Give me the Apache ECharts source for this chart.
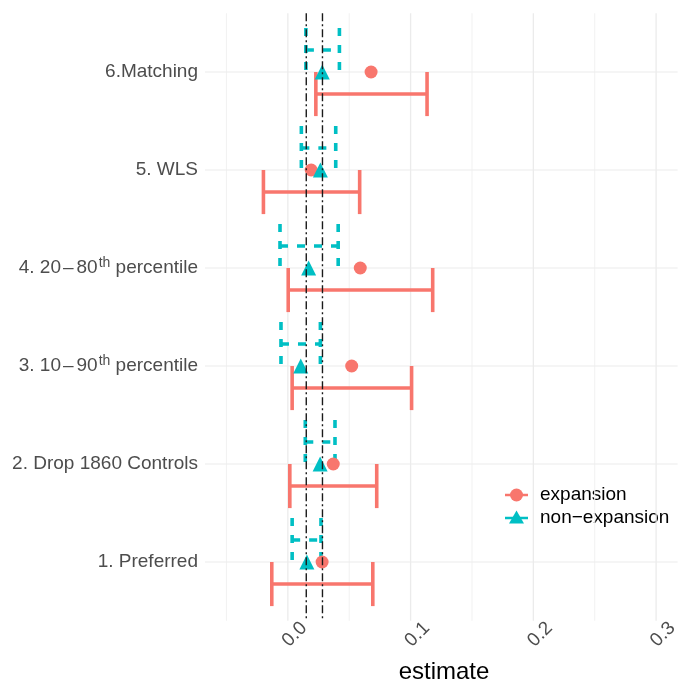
<!DOCTYPE html>
<html>
<head>
<meta charset="utf-8">
<script src="https://cdn.jsdelivr.net/npm/echarts@6/dist/echarts.min.js"></script>
<style>html,body{margin:0;padding:0;background:#fff;}#c{width:681px;height:684px;}</style>
</head>
<body>
<div id="c"></div>
<script>
// Categories (bottom to top, y positions 1..6)
const categories = ['1. Preferred', '2. Drop 1860 Controls', '3. 10{d|\u2013}90{sup|th} percentile', '4. 20{d|\u2013}80{sup|th} percentile', '5. WLS', '6.Matching'];
// expansion
const expEst = [0.0279, 0.0370, 0.0520, 0.0590, 0.0190, 0.0678];
const expLo  = [-0.0131, 0.0016, 0.0035, 0.0003, -0.0199, 0.0228];
const expHi  = [0.0692, 0.0724, 0.1008, 0.1180, 0.0585, 0.1134];
// non-expansion
const nonEst = [0.0155, 0.0263, 0.0105, 0.0169, 0.0265, 0.0280];
const nonLo  = [0.0035, 0.0142, -0.0056, -0.0064, 0.0110, 0.0147];
const nonHi  = [0.0270, 0.0384, 0.0265, 0.0410, 0.0390, 0.0420];
// reference lines
const refLines = [0.0150, 0.0282];
// x ticks
const xMajor = [0.0, 0.1, 0.2, 0.3];
const xMinor = [-0.05, 0.05, 0.15, 0.25];
const yPos = [1, 2, 3, 4, 5, 6];

const RED = '#F8766D', CYAN = '#00BFC4';

function errRender(sign, color, dashed) {
  return function (params, api) {
    const yv = api.value(2);
    const unit = api.size([0, 1])[1];
    const a = api.coord([api.value(0), yv]);
    const b = api.coord([api.value(1), yv]);
    const yc = a[1] + sign * 0.225 * unit;
    const h = 0.225 * unit;
    const style = { stroke: color, lineWidth: 3.6, fill: null, lineDash: dashed ? [8, 9] : null };
    return { type: 'group', children: [
      { type: 'line', shape: { x1: a[0], y1: yc, x2: b[0], y2: yc }, style: style },
      { type: 'line', shape: { x1: a[0], y1: yc - h, x2: a[0], y2: yc + h }, style: style },
      { type: 'line', shape: { x1: b[0], y1: yc - h, x2: b[0], y2: yc + h }, style: style }
    ]};
  };
}
function vRender(color, width, dash) {
  return function (params, api) {
    const cs = params.coordSys;
    const p = api.coord([api.value(0), 1]);
    return { type: 'line', shape: { x1: p[0], y1: cs.y, x2: p[0], y2: cs.y + cs.height },
      style: { stroke: color, lineWidth: width, lineDash: dash } };
  };
}
function hRender(params, api) {
  const cs = params.coordSys;
  const p = api.coord([0, api.value(0)]);
  return { type: 'line', shape: { x1: cs.x, y1: p[1], x2: cs.x + cs.width, y2: p[1] },
    style: { stroke: '#EBEBEB', lineWidth: 1.1 } };
}

const chart = echarts.init(document.getElementById('c'), null, { renderer: 'canvas' });
chart.setOption({
  animation: false,
  backgroundColor: '#fff',
  grid: { left: 205, top: 13.2, width: 478.7, height: 607.6, containLabel: false },
  xAxis: {
    type: 'value', min: -0.0675, max: 0.3175,
    axisLine: { show: false }, axisTick: { show: false }, splitLine: { show: false },
    axisLabel: {
      customValues: xMajor, rotate: 45, align: 'center', verticalAlign: 'top', margin: 7,
      fontSize: 19, color: '#4D4D4D', fontFamily: 'Liberation Sans',
      formatter: v => v.toFixed(1)
    }
  },
  yAxis: {
    type: 'value', min: 0.4, max: 6.6,
    axisLine: { show: false }, axisTick: { show: false }, splitLine: { show: false },
    axisLabel: {
      customValues: yPos, margin: 7, fontSize: 19, color: '#4D4D4D', fontFamily: 'Liberation Sans',
      formatter: v => categories[Math.round(v) - 1] || '',
      rich: {
        sup: { fontSize: 14, color: '#4D4D4D', fontFamily: 'Liberation Sans', verticalAlign: 'bottom', padding: [0, 0, 10, 1] },
        d: { fontSize: 19, color: '#4D4D4D', fontFamily: 'Liberation Sans', padding: [0, 3, 0, 2] }
      }
    }
  },
  graphic: [
    { type: 'text', x: 305, y: 0, style: { text: '(b)', fontSize: 24, fontFamily: 'Liberation Sans', fill: '#000', align: 'center', verticalAlign: 'bottom' } },
    { type: 'text', x: 444, y: 672, style: { text: 'estimate', fontSize: 24, fontFamily: 'Liberation Sans', fill: '#000', align: 'center', verticalAlign: 'middle' } },
    { type: 'line', shape: { x1: 505, y1: 495, x2: 528, y2: 495 }, style: { stroke: RED, lineWidth: 2.5 } },
    { type: 'circle', shape: { cx: 516.5, cy: 495, r: 6.5 }, style: { fill: RED } },
    { type: 'text', x: 540, y: 495, style: { text: 'expansion', fontSize: 19, fontFamily: 'Liberation Sans', fill: '#000', verticalAlign: 'middle' } },
    { type: 'line', shape: { x1: 505, y1: 518, x2: 528, y2: 518 }, style: { stroke: CYAN, lineWidth: 2.5 } },
    { type: 'polygon', shape: { points: [[516.5, 510.5], [524, 523.5], [509, 523.5]] }, style: { fill: CYAN } },
    { type: 'text', x: 540, y: 518, style: { text: 'non\u2212expansion', fontSize: 19, fontFamily: 'Liberation Sans', fill: '#000', verticalAlign: 'middle' } }
  ],
  series: [
    { type: 'custom', name: 'minor', z: 0, silent: true, data: xMinor.map(v => [v]),
      renderItem: vRender('#F2F2F2', 1.1, null) },
    { type: 'custom', name: 'major', z: 0, silent: true, data: xMajor.map(v => [v]),
      renderItem: vRender('#EBEBEB', 1.3, null) },
    { type: 'custom', name: 'hgrid', z: 0, silent: true, data: yPos.map(v => [v]), renderItem: hRender },
    { type: 'custom', name: 'expansion-err', z: 2, data: yPos.map((y, i) => [expLo[i], expHi[i], y]),
      renderItem: errRender(1, RED, false) },
    { type: 'custom', name: 'nonexp-err', z: 2, data: yPos.map((y, i) => [nonLo[i], nonHi[i], y]),
      renderItem: errRender(-1, CYAN, true) },
    { type: 'scatter', name: 'expansion', z: 3, symbol: 'circle', symbolSize: 13,
      itemStyle: { color: RED, opacity: 1 }, data: yPos.map((y, i) => [expEst[i], y]) },
    { type: 'scatter', name: 'non-expansion', z: 3, symbol: 'triangle', symbolSize: 15,
      itemStyle: { color: CYAN, opacity: 1 }, data: yPos.map((y, i) => [nonEst[i], y]) },
    { type: 'custom', name: 'ref', z: 4, silent: true, data: refLines.map(v => [v]),
      renderItem: vRender('#1A1A1A', 1.4, [8, 3, 2, 3]) }
  ]
});
</script>
</body>
</html>
